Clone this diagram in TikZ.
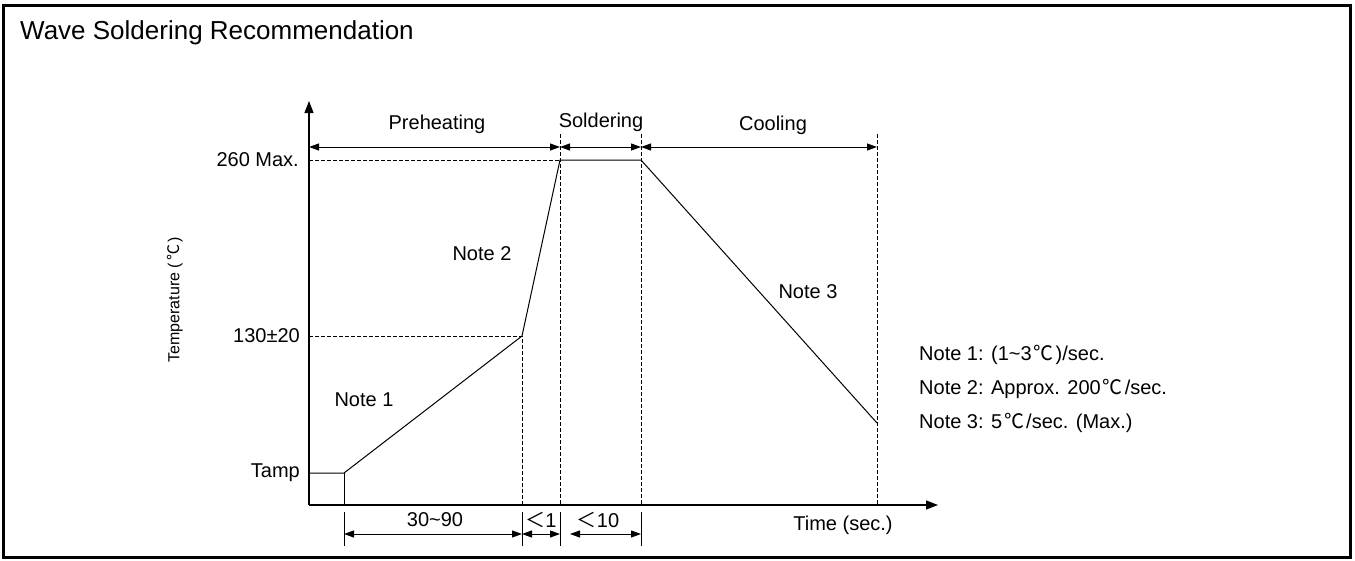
\documentclass[tikz,border=0pt]{standalone}
\usepackage{fontspec}
\setmainfont{Liberation Sans}
\newfontfamily\cjk{Noto Sans CJK KR}
\usetikzlibrary{arrows.meta}

\tikzset{
  lbl/.style={font=\fontsize{20}{22}\selectfont, inner sep=0pt},
  dim/.style={<->, line width=1pt},
  axis/.style={-{Triangle[length=12pt,width=9pt]}, line width=1.3pt},
  guide/.style={dashed, dash pattern=on 4pt off 2pt, line width=0.8pt},
  curve/.style={line width=1pt},
}
\newcommand{\degc}{\hspace{2pt}{\cjk ℃}\hspace{2pt}}

\begin{document}
\begin{tikzpicture}[x=1pt, y=-1pt, >={Triangle[length=10pt,width=7pt]}]
\useasboundingbox (0,0) rectangle (1355,560);
\draw [line width=3pt] (3,5) rectangle (1350,557);
\node [anchor=west, font=\fontsize{26}{28}\selectfont, inner sep=0pt] (title) at (20,33) {Wave Soldering Recommendation};

% axes
\coordinate (O) at (309,505);
\coordinate (ytop) at (309,101);
\coordinate (xend) at (938,505);
\draw [axis] (O) -- (ytop);
\draw [axis] (O) -- (xend);

% profile points
\coordinate (T0) at (309,473);
\coordinate (T1) at (344,473);
\coordinate (T1b) at (344,505);
\coordinate (A) at (522,336);
\coordinate (B) at (560,160);
\coordinate (C) at (641,160);
\coordinate (D) at (877,423);
\draw [curve] (T0) -- (T1) -- (A) -- (B) -- (C) -- (D);
\draw [curve] (T1) -- (T1b);

% guides
\coordinate (A0) at (309,336);
\coordinate (B0) at (309,160);
\coordinate (Ax) at (522,505);
\coordinate (Bt) at (560,134);
\coordinate (Bx) at (560,505);
\coordinate (Ct) at (641,134);
\coordinate (Cx) at (641,505);
\coordinate (Dt) at (877,134);
\coordinate (Dx) at (877,505);
\draw [guide] (A0) -- (A) -- (Ax);
\draw [guide] (B0) -- (B);
\draw [guide] (Bt) -- (Bx);
\draw [guide] (Ct) -- (Cx);
\draw [guide] (Dt) -- (Dx);

% top dimensions
\coordinate (h0) at (309,147);
\coordinate (h1) at (560,147);
\coordinate (h2) at (641,147);
\coordinate (h3) at (877,147);
\draw [dim] (h0) -- (h1);
\draw [dim] (h1) -- (h2);
\draw [dim] (h2) -- (h3);
\node [lbl] (pre) at (437,124) {Preheating};
\node [lbl] (sol) at (601,122) {Soldering};
\node [lbl] (cool) at (773,125) {Cooling};

% bottom ticks and dimensions
\foreach \x/\n in {344/a, 522/b, 560/c, 641/d} {
  \coordinate (t\n1) at (\x,512);
  \coordinate (t\n2) at (\x,546);
  \draw [line width=0.8pt] (t\n1) -- (t\n2);
}
\coordinate (b0) at (344,534);
\coordinate (b1) at (522,534);
\coordinate (b2) at (560,534);
\coordinate (b3) at (570,534);
\coordinate (b4) at (641,534);
\draw [dim] (b0) -- (b1);
\draw [dim] (b1) -- (b2);
\draw [dim] (b3) -- (b4);
\node [lbl] (r1) at (435,520) {30\textasciitilde 90};
\node [lbl] (r2) at (541,520) {{\cjk ＜}1};
\node [lbl] (r3) at (598,520) {{\cjk ＜}10};
\node [lbl] (time) at (843,525) {Time (sec.)};

% y labels
\node [lbl, anchor=east] (t260) at (299,160) {260 Max.};
\node [lbl, anchor=east] (t130) at (300,336) {130±20};
\node [lbl, anchor=east] (tamp) at (300,473) {Tamp};
\node [lbl, rotate=90, font=\fontsize{16}{18}\selectfont] (temp) at (175,300) {Temperature (\degc)};

% notes
\node [lbl] (n1) at (364,400) {Note 1};
\node [lbl] (n2) at (482,254) {Note 2};
\node [lbl] (n3) at (808,292) {Note 3};
\node [lbl, anchor=west] (m1) at (919,355) {Note 1: (1\textasciitilde 3\degc)/sec.};
\node [lbl, anchor=west] (m2) at (919,389) {Note 2: Approx. 200\degc/sec.};
\node [lbl, anchor=west] (m3) at (919,423) {Note 3: 5\degc/sec. (Max.)};
\end{tikzpicture}
\end{document}
